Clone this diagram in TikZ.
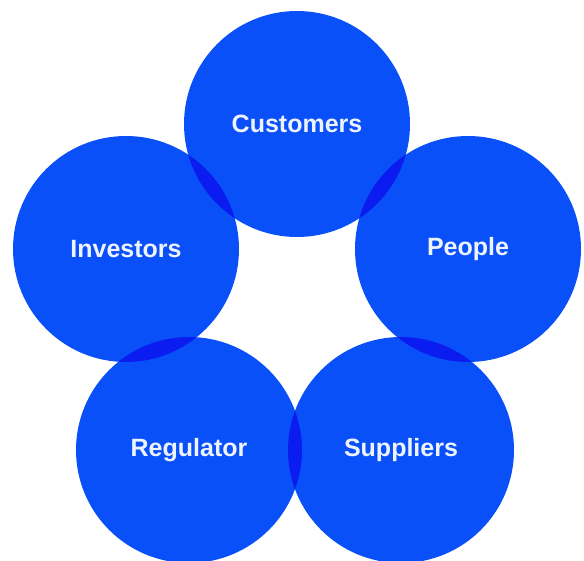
\documentclass[tikz,border=0pt]{standalone}
\usepackage{xcolor}
\usepackage{fontspec}
\setmainfont{Liberation Sans}
\usepackage{tikz}

\definecolor{ringblue}{HTML}{0A50F8}
\definecolor{lensblue}{HTML}{0A1CF0}
\definecolor{labelwhite}{HTML}{EEF4FF}

\begin{document}
\begin{tikzpicture}[x=1pt, y=-1pt,
    every node/.style={font=\bfseries\fontsize{25}{29}\selectfont, text=labelwhite},
    ring/.style={circle, fill=ringblue, minimum size=226pt, inner sep=0pt}]
    \useasboundingbox (0,0) rectangle (584,560);
    % Customers
    \node[ring] (cust) at (297,124) {Customers};
    % Investors
    \node[ring] (inv) at (126,249) {Investors};
    % People
    \node[ring] (peop) at (468,249) {People};
    % Regulator
    \node[ring] (reg) at (189,450) {Regulator};
    % Suppliers
    \node[ring] (supp) at (401,450) {Suppliers};
    % Overlaps
    \foreach \a/\b in {cust/inv, cust/peop, inv/reg, peop/supp, reg/supp} {
        \begin{scope}
            \clip (\a.center) circle (113);
            \fill[lensblue] (\b.center) circle (113);
        \end{scope}
    }
\end{tikzpicture}
\end{document}
